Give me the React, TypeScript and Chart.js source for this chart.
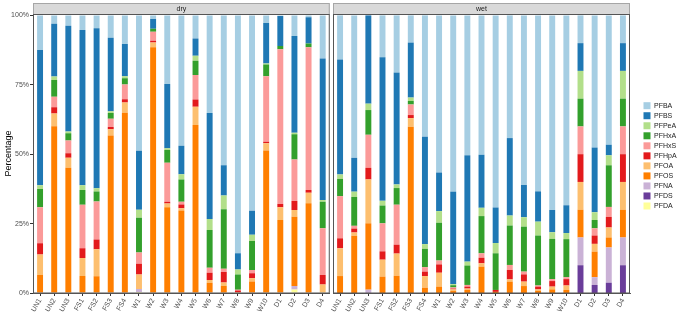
import React, { useEffect, useRef } from "react";
import { Chart, registerables } from "chart.js";
Chart.register(...registerables);

const FONT = '"Liberation Sans", Arial, sans-serif';

const categories = ["UN1","UN2","UN3","FS1","FS2","FS3","FS4","W1","W2","W3","W4","W5","W6","W7","W8","W9","W10","D1","D2","D3","D4"];
const yTicks = [0, 25, 50, 75, 100];
const panels = ["dry", "wet"];

// stacking order bottom -> top
const seriesNames = ["PFDA","PFDS","PFNA","PFOS","PFOA","PFHpA","PFHxS","PFHxA","PFPeA","PFBS","PFBA"];
const seriesColors = ["#FFFF99","#6A3D9A","#CAB2D6","#FF7F00","#FDBF6F","#E31A1C","#FB9A99","#33A02C","#B2DF8A","#1F78B4","#A6CEE3"];

// ---- dry ----
const dryPFDA  = [0,0,0,0,0,0,0, 0.4,0,0,0,0,0,0,0,0,0, 0,1.3,0,0];
const dryPFDS  = [0,0,0,0,0,0,0, 0,0,0,0,0,0,0,0,0,0, 0,0,0,0];
const dryPFNA  = [0,0,0,0,0,0,0, 1.0,0,0,0,0,0,0,0,0,0, 0,1.2,0,0];
const dryPFOS  = [6.5,60.1,45.1,6.1,6.0,56.7,64.9, 0,88.5,30.9,29.7,60.5,3.7,2.5,0.3,4.1,51.3, 26.3,25.0,32.3,0];
const dryPFOA  = [7.4,4.6,3.6,6.5,9.8,2.3,3.7, 5.3,1.7,1.3,0.8,6.6,1.0,1.3,0,1.2,2.6, 4.6,2.4,3.8,3.1];
const dryPFHpA = [4.0,2.2,1.6,3.5,3.5,0.8,1.2, 3.8,0.7,0.7,1.4,2.6,2.6,3.8,0.6,1.8,0.6, 1.2,3.2,1.0,3.4];
const dryPFHxS = [13.0,3.8,4.6,15.7,13.7,3.0,5.3, 4.1,3.2,14.0,1.0,8.8,1.8,1.1,0.3,1.2,23.6, 55.7,15.0,51.4,16.8];
const dryPFHxA = [6.6,6.0,2.6,5.3,3.6,2.0,2.3, 12.5,1.1,4.6,8.0,5.2,13.6,21.5,5.5,10.4,4.2, 1.2,9.1,1.4,9.6];
const dryPFPeA = [1.3,1.3,0.7,1.7,1.1,0.7,0.7, 2.9,0,0.6,1.9,1.8,4.0,4.9,1.8,2.3,0.4, 0,0.5,0,0.6];
const dryPFBS  = [48.7,19.0,38.1,55.9,57.7,26.4,11.6, 21.2,3.5,23.2,10.2,6.2,38.1,10.9,5.8,8.6,14.6, 10.8,34.9,9.4,51.0];
const dryPFBA  = [12.5,3.0,3.7,5.3,4.6,8.1,10.3, 48.8,1.3,24.7,47.0,8.3,35.2,54.0,85.7,70.4,2.7, 0.2,7.4,0.7,15.5];

// ---- wet ----
const wetPFDA  = [0,0,0,0,0,0,0, 0,0,0,0,0,0,0,0,0,0, 0,0,0,0];
const wetPFDS  = [0,0,0,0,0,0,0, 0,0,0,0,0,0,0,0,0,0, 10,2.9,3.7,10];
const wetPFNA  = [0,0,1.2,0,0,0,0, 0,0,0,0,0,0,0,0,0,0, 10,2.8,12.7,10];
const wetPFOS  = [6.1,20.6,23.9,5.9,6.2,59.9,1.9, 2.3,0.7,1.1,9.5,0.4,4.1,2.5,0.8,1.3,1.1, 10,9.2,3.6,10];
const wetPFOA  = [10.0,1.2,15.8,6.1,8.0,3.1,4.2, 5.0,0.6,0.5,1.2,0,0.8,1.6,0.5,1.0,1.6, 10,2.8,3.6,10];
const wetPFHpA = [3.6,1.4,4.2,3.0,3.2,1.1,1.6, 3.0,0.3,0.7,2.0,0.7,3.4,2.6,1.0,2.0,2.3, 10,3.0,3.8,10];
const wetPFHxS = [15.2,1.0,11.9,10.1,14.4,3.8,1.6, 1.4,0.4,0.6,1.6,0,1.8,1.0,0.4,0.7,0.7, 10,2.6,3.6,10];
const wetPFHxA = [6.2,10.4,8.9,6.4,6.0,1.3,6.6, 13.6,0.8,7.0,13.4,13.2,14.2,16.2,18.0,14.5,13.7, 10,3.0,15.0,10];
const wetPFPeA = [1.6,1.9,2.3,1.7,1.3,1.2,1.7, 4.2,0.4,1.4,3.0,3.7,3.6,3.4,5.0,2.4,2.2, 10,2.8,3.6,10];
const wetPFBS  = [41.4,12.2,31.8,51.7,40.3,19.8,38.7, 13.9,33.3,38.3,19.1,12.8,27.9,11.6,10.9,8.0,10.0, 10,23.3,3.8,10];
const wetPFBA  = [15.9,51.3,0,15.1,20.6,9.8,43.7, 56.6,63.5,50.4,50.2,69.2,44.2,61.1,63.4,70.1,68.4, 10,47.6,46.6,10];

const dryData = [dryPFDA,dryPFDS,dryPFNA,dryPFOS,dryPFOA,dryPFHpA,dryPFHxS,dryPFHxA,dryPFPeA,dryPFBS,dryPFBA];
const wetData = [wetPFDA,wetPFDS,wetPFNA,wetPFOS,wetPFOA,wetPFHpA,wetPFHxS,wetPFHxA,wetPFPeA,wetPFBS,wetPFBA];

function makeDatasets(data: number[][]) {
  return seriesNames.map((name, i) => ({
    label: name,
    data: data[i],
    backgroundColor: seriesColors[i],
    borderWidth: 0,
    barPercentage: 0.42,
    categoryPercentage: 1.0,
    stack: "s",
  }));
}

function panelPlugin(label: string, withLegend: boolean, canvasLeft: number) {
  return {
    id: "panelDeco",
    afterDraw(chart: any) {
      const { ctx, chartArea: a } = chart;
      ctx.save();
      // strip
      const sTop = 3;
      ctx.fillStyle = "#D9D9D9";
      ctx.fillRect(a.left, sTop, a.right - a.left, a.top - sTop);
      ctx.strokeStyle = "#A6A6A6";
      ctx.lineWidth = 1;
      ctx.strokeRect(a.left + 0.5, sTop + 0.5, a.right - a.left - 1, a.top - sTop);
      ctx.fillStyle = "#1A1A1A";
      ctx.font = `7px ${FONT}`;
      ctx.textAlign = "center";
      ctx.textBaseline = "middle";
      ctx.fillText(label, (a.left + a.right) / 2, (sTop + a.top) / 2 + 0.5);
      // panel border
      ctx.strokeStyle = "#555555";
      ctx.strokeRect(a.left + 0.5, a.top + 0.5, a.right - a.left - 1, a.bottom - a.top - 0.5);
      // legend
      if (withLegend) {
        const sx = 643.5 - canvasLeft;
        const tx = 654 - canvasLeft;
        const y0 = 105.7;
        const step = 10.03;
        ctx.textAlign = "left";
        ctx.textBaseline = "middle";
        ctx.font = `7px ${FONT}`;
        const ds = chart.data.datasets;
        for (let k = 0; k < ds.length; k++) {
          const d = ds[ds.length - 1 - k];
          const cy = y0 + k * step;
          ctx.fillStyle = d.backgroundColor;
          ctx.fillRect(sx, cy - 3.5, 7, 7);
          ctx.fillStyle = "#1A1A1A";
          ctx.fillText(d.label, tx, cy + 0.5);
        }
      }
      ctx.restore();
    },
  };
}

function makeConfig(panel: string, data: number[][], showY: boolean, padding: any, legend: boolean, canvasLeft: number): any {
  return {
    type: "bar",
    data: { labels: categories, datasets: makeDatasets(data) },
    options: {
      animation: false,
      responsive: false,
      devicePixelRatio: 1,
      layout: { padding },
      plugins: { legend: { display: false }, tooltip: { enabled: false } },
      scales: {
        x: {
          stacked: true,
          afterFit: (s: any) => { s.height = 19; },
          ticks: {
            autoSkip: false,
            minRotation: 60,
            maxRotation: 60,
            font: { size: 7, family: FONT },
            color: "#4D4D4D",
            padding: 1,
          },
          grid: { drawOnChartArea: false, tickLength: 3, color: "#333333", offset: false },
          border: { display: true, color: "#555555" },
        },
        y: {
          display: showY,
          stacked: true,
          min: 0,
          max: 100.5,
          afterBuildTicks: (s: any) => { s.ticks = yTicks.map((v) => ({ value: v })); },
          afterFit: (s: any) => { if (showY) s.width = 33; },
          ticks: {
            callback: (v: any) => `${v}%`,
            font: { size: 7, family: FONT },
            color: "#4D4D4D",
            padding: 1,
          },
          grid: { drawOnChartArea: false, tickLength: 3, color: "#333333" },
          border: { display: true, color: "#555555" },
          title: {
            display: true,
            text: "Percentage",
            font: { size: 9, family: FONT },
            color: "#000000",
            padding: { top: 3, bottom: 0 },
          },
        },
      },
    },
    plugins: [panelPlugin(panel, legend, canvasLeft)],
  };
}

export default function App() {
  const leftRef = useRef<HTMLCanvasElement>(null);
  const rightRef = useRef<HTMLCanvasElement>(null);

  useEffect(() => {
    const c1 = new Chart(leftRef.current as HTMLCanvasElement,
      makeConfig(panels[0], dryData, true, { top: 14, right: 1, bottom: 0, left: 0 }, false, 0));
    const c2 = new Chart(rightRef.current as HTMLCanvasElement,
      makeConfig(panels[1], wetData, false, { top: 14, right: 55, bottom: 0, left: 2 }, true, 331));
    return () => { c1.destroy(); c2.destroy(); };
  }, []);

  return (
    <div style={{ position: "absolute", left: 0, top: 0, width: 685, height: 312, background: "#fff" }}>
      <canvas ref={leftRef} width={331} height={312}
        style={{ position: "absolute", left: 0, top: 0, width: 331, height: 312 }} />
      <canvas ref={rightRef} width={354} height={312}
        style={{ position: "absolute", left: 331, top: 0, width: 354, height: 312 }} />
    </div>
  );
}
